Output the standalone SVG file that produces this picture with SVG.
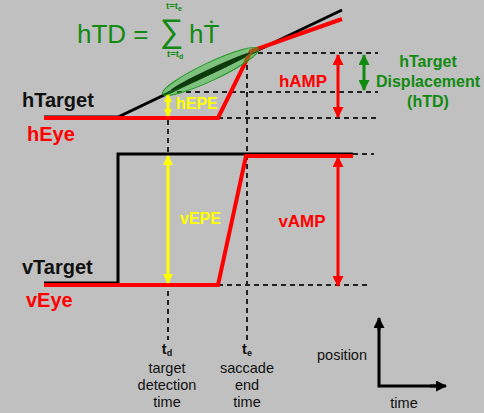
<svg xmlns="http://www.w3.org/2000/svg" width="484" height="413" viewBox="0 0 484 413">
<style>
text{font-family:"Liberation Sans",Arial,sans-serif}
.lbl{font-size:20px;font-weight:bold}
.blk{fill:#111}
.red{fill:#ff0000}
.grn{fill:#108a10}
.yel{fill:#ffff00}
.small{font-size:14.5px;fill:#111;text-anchor:middle}
.dash{stroke:#222;stroke-width:2;stroke-dasharray:5 4;fill:none}
</style>
<defs>
<marker id="ar" markerUnits="userSpaceOnUse" markerWidth="11" markerHeight="11" refX="10" refY="5.5" orient="auto-start-reverse"><path d="M0,0 L11,5.5 L0,11 z" fill="#ff0000"/></marker>
<marker id="ay" markerUnits="userSpaceOnUse" markerWidth="10" markerHeight="10" refX="9" refY="5" orient="auto-start-reverse"><path d="M0,0 L10,5 L0,10 z" fill="#ffff00"/></marker>
<marker id="ays" markerUnits="userSpaceOnUse" markerWidth="8" markerHeight="8" refX="7" refY="4" orient="auto-start-reverse"><path d="M0,0 L8,4 L0,8 z" fill="#ffff00"/></marker>
<marker id="ag" markerUnits="userSpaceOnUse" markerWidth="11" markerHeight="11" refX="10" refY="5.5" orient="auto-start-reverse"><path d="M0,0 L11,5.5 L0,11 z" fill="#108a10"/></marker>
<marker id="ab" markerUnits="userSpaceOnUse" markerWidth="11" markerHeight="11" refX="10" refY="5.5" orient="auto"><path d="M0,0 L11,5.5 L0,11 z" fill="#000"/></marker>
</defs>
<rect width="484" height="413" fill="#c0c0c0"/>

<g id="guides">
<line class="dash" x1="258" y1="53" x2="378" y2="53"/>
<line class="dash" x1="168" y1="92" x2="378" y2="92"/>
<line class="dash" x1="218" y1="118" x2="378" y2="118"/>
<line class="dash" x1="353" y1="154" x2="374" y2="154"/>
<line class="dash" x1="218" y1="285" x2="368" y2="285"/>
<line class="dash" x1="168" y1="120" x2="168" y2="340"/>
<line class="dash" x1="247" y1="56" x2="247" y2="340"/>
</g>

<g id="hTarget-trace">
<polyline points="44,117 118,117 342,10" fill="none" stroke="#000" stroke-width="3"/>
</g>
<g id="hEye-trace">
<polyline points="44,118 218,118 251,51 342,19" fill="none" stroke="#ff0000" stroke-width="4"/>
</g>
<g id="vTarget-trace">
<polyline points="44,283 118,283 118,154 353,154" fill="none" stroke="#000" stroke-width="3"/>
</g>
<g id="vEye-trace">
<polyline points="44,285 218,285 246,156 353,156" fill="none" stroke="#ff0000" stroke-width="4"/>
</g>

<g id="hTD-ellipse">
<ellipse cx="210.5" cy="71.5" rx="53" ry="9" transform="rotate(-25.3 210.5 71.5)" fill="#2fc02f" fill-opacity="0.45" stroke="#1f9a1f" stroke-width="1"/>
<ellipse cx="210.5" cy="71.5" rx="44" ry="2.8" transform="rotate(-25.3 210.5 71.5)" fill="#0d3a0d"/>
</g>

<g id="connectors">
<line x1="168" y1="95" x2="168" y2="116" stroke="#ffff00" stroke-width="3" marker-start="url(#ays)" marker-end="url(#ays)"/>
<line x1="168" y1="156" x2="168" y2="283" stroke="#ffff00" stroke-width="3" marker-start="url(#ay)" marker-end="url(#ay)"/>
<line x1="338" y1="55" x2="338" y2="117" stroke="#ff0000" stroke-width="3" marker-start="url(#ar)" marker-end="url(#ar)"/>
<line x1="338" y1="157" x2="338" y2="286" stroke="#ff0000" stroke-width="3" marker-start="url(#ar)" marker-end="url(#ar)"/>
<line x1="364" y1="55" x2="364" y2="90" stroke="#108a10" stroke-width="3" marker-start="url(#ag)" marker-end="url(#ag)"/>
</g>

<g id="axes">
<polyline points="379,320 379,386 443,386" fill="none" stroke="#000" stroke-width="3"/>
<line x1="379" y1="330" x2="379" y2="318" stroke="#000" stroke-width="3" marker-end="url(#ab)"/>
<line x1="430" y1="386" x2="446" y2="386" stroke="#000" stroke-width="3" marker-end="url(#ab)"/>
<text class="small" x="342" y="360">position</text>
<text class="small" x="404" y="408">time</text>
</g>

<g id="formula" class="grn">
<text x="77" y="43" font-size="26">hTD =</text>
<text x="160" y="42" font-size="33">∑</text>
<text x="189" y="43" font-size="26">hṪ</text>
<text x="166" y="9" font-size="9.5" font-weight="bold">t=t<tspan font-size="7" dy="2">e</tspan></text>
<text x="167" y="57" font-size="9.5" font-weight="bold">t=t<tspan font-size="7" dy="2">d</tspan></text>
</g>

<g id="labels">
<text class="lbl blk" x="22" y="107">hTarget</text>
<text class="lbl red" x="27" y="141">hEye</text>
<text class="lbl blk" x="22" y="274">vTarget</text>
<text class="lbl red" x="26" y="307">vEye</text>
<text class="yel" x="176" y="109" font-size="16" font-weight="bold">hEPE</text>
<text class="yel" x="180" y="224" font-size="16" font-weight="bold">vEPE</text>
<text class="red" x="303" y="87" font-size="17" font-weight="bold" text-anchor="middle">hAMP</text>
<text class="red" x="302" y="227" font-size="17" font-weight="bold" text-anchor="middle">vAMP</text>
<text class="grn" font-size="16" font-weight="bold" text-anchor="middle"><tspan x="428" y="67">hTarget</tspan><tspan x="428" y="87">Displacement</tspan><tspan x="428" y="107">(hTD)</tspan></text>
</g>

<g id="td-label">
<text class="small" x="167" y="354" font-weight="bold">t<tspan font-size="9" dy="2">d</tspan></text>
<text class="small" x="167" y="373">target</text>
<text class="small" x="167" y="390">detection</text>
<text class="small" x="167" y="407">time</text>
</g>
<g id="te-label">
<text class="small" x="247" y="354" font-weight="bold">t<tspan font-size="9" dy="2">e</tspan></text>
<text class="small" x="247" y="373">saccade</text>
<text class="small" x="247" y="390">end</text>
<text class="small" x="247" y="407">time</text>
</g>
</svg>
